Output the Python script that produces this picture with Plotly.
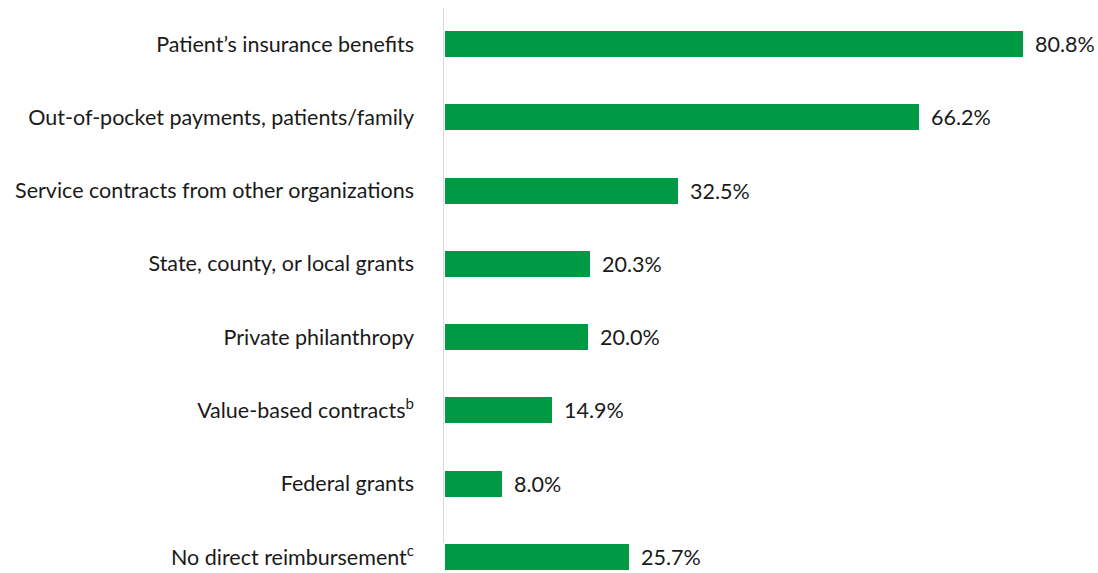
import plotly.graph_objects as go

# Funding sources and share of respondents (%)
categories = [
    "Patient’s insurance benefits",
    "Out-of-pocket payments, patients/family",
    "Service contracts from other organizations",
    "State, county, or local grants",
    "Private philanthropy",
    "Value-based contracts<sup>b</sup>",
    "Federal grants",
    "No direct reimbursement<sup>c</sup>",
]
values = [80.8, 66.2, 32.5, 20.3, 20.0, 14.9, 8.0, 25.7]
value_labels = ["80.8%", "66.2%", "32.5%", "20.3%", "20.0%", "14.9%", "8.0%", "25.7%"]

GREEN = "#009A44"
FONT = "Lato, 'Open Sans', sans-serif"
TXT = "#1a1a1a"
SIZE = 21.5

positions = list(range(len(categories)))

fig = go.Figure(
    go.Bar(
        x=values,
        y=positions,
        orientation="h",
        width=0.355,
        marker=dict(color=GREEN, line=dict(width=0)),
        hoverinfo="skip",
    )
)

# value labels just past the end of each bar
for pos, v, lab in zip(positions, values, value_labels):
    fig.add_annotation(
        x=v, y=pos, text=lab, showarrow=False,
        xanchor="left", yanchor="middle", xshift=10,
        font=dict(family=FONT, size=SIZE, color=TXT),
    )

# thin gray baseline that stops above the last category
fig.add_shape(
    type="line", xref="x", yref="y",
    x0=-0.3, x1=-0.3, y0=-0.49, y1=6.81,
    line=dict(color="#d9d9d9", width=2),
)

fig.update_layout(
    width=1098, height=573,
    margin=dict(l=443, r=0, t=0, b=0),
    paper_bgcolor="white", plot_bgcolor="white",
    showlegend=False,
    font=dict(family=FONT, size=SIZE, color=TXT),
    bargap=0,
)
fig.update_xaxes(
    range=[-0.3, 91.3], visible=False, showgrid=False, zeroline=False,
)
fig.update_yaxes(
    range=[7.218, -0.600],
    tickmode="array", tickvals=positions, ticktext=categories,
    showgrid=False, zeroline=False, showline=False, ticks="",
    ticklabelstandoff=28,
    tickfont=dict(family=FONT, size=SIZE, color=TXT),
)

fig.write_html("out.html")
